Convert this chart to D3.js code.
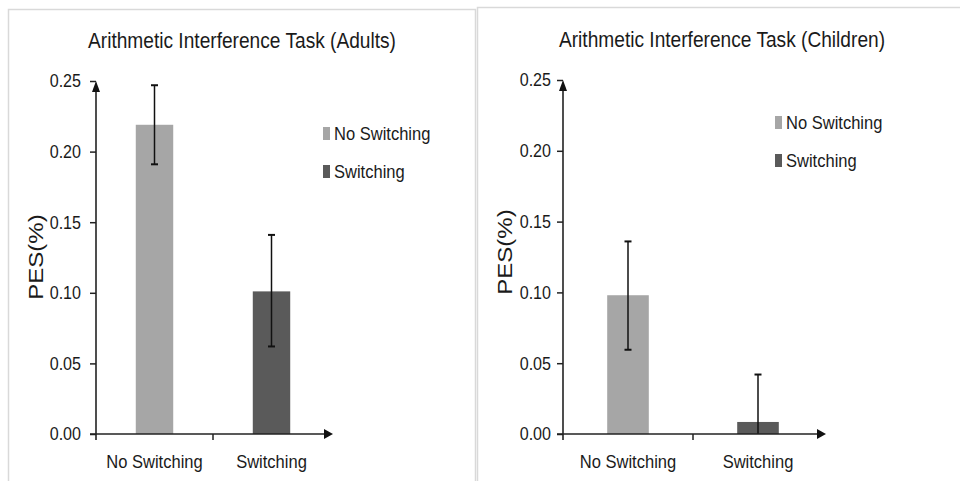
<!DOCTYPE html>
<html>
<head>
<meta charset="utf-8">
<script src="https://cdn.jsdelivr.net/npm/d3@7"></script>
<style>
  html, body { margin: 0; padding: 0; background: #ffffff; }
  svg { display: block; }
  text { font-family: "Liberation Sans", Arial, sans-serif; fill: #1a1a1a; }
</style>
</head>
<body>
<svg id="chart" width="960" height="481"></svg>
<script>
// ---------- data ----------
const categories = ["No Switching", "Switching"];
const yTicks = [0, 0.05, 0.10, 0.15, 0.20, 0.25];
const yLabel = "PES(%)";

const adultsTitle = "Arithmetic Interference Task (Adults)";
const adultsMean  = [0.219, 0.101];
const adultsUpper = [0.247, 0.141];
const adultsLower = [0.191, 0.062];

const childrenTitle = "Arithmetic Interference Task (Children)";
const childrenMean  = [0.098, 0.0085];
const childrenUpper = [0.136, 0.042];
const childrenLower = [0.0595, -0.025];

const barColors = ["#a6a6a6", "#5a5a5a"];

// ---------- drawing ----------
const SX = 0.87; // horizontal squeeze of the original picture
const svg = d3.select("#chart");

// panel frames
svg.append("path")
  .attr("d", "M8.5,481 L8.5,9.5 L475.5,9.5 L475.5,481")
  .attr("fill", "none").attr("stroke", "#d9d9d9").attr("stroke-width", 1.5);
svg.append("path")
  .attr("d", "M477.5,481 L477.5,7.5 L962,7.5")
  .attr("fill", "none").attr("stroke", "#d9d9d9").attr("stroke-width", 1.5);

function squeezedText(g, x, y, str, size, anchor) {
  return g.append("g").attr("transform", `translate(${x},${y})`)
    .append("text")
    .attr("transform", `scale(${SX},1)`)
    .attr("text-anchor", anchor)
    .style("font-size", size + "px")
    .text(str);
}

function drawPanel(p) {
  const g = svg.append("g");
  const y = d3.scaleLinear().domain([0, 0.25]).range([p.y0, p.yTop]);
  const x = d3.scaleBand().domain(categories)
    .range([p.x0, p.x1]).paddingInner(0.68).paddingOuter(0.34);
  const step = x.step();

  // bars
  g.selectAll("rect.bar").data(categories).enter().append("rect")
    .attr("x", d => x(d))
    .attr("width", x.bandwidth())
    .attr("y", (d, i) => y(p.mean[i]))
    .attr("height", (d, i) => p.y0 - y(p.mean[i]))
    .attr("fill", (d, i) => barColors[i]);

  // error bars
  categories.forEach((c, i) => {
    const cx = x(c) + x.bandwidth() / 2;
    const lo = Math.max(0, p.lower[i]);
    g.append("line").attr("x1", cx).attr("x2", cx)
      .attr("y1", y(p.upper[i])).attr("y2", y(lo))
      .attr("stroke", "#111").attr("stroke-width", 1.5);
    g.append("line").attr("x1", cx - 3.5).attr("x2", cx + 3.5)
      .attr("y1", y(p.upper[i])).attr("y2", y(p.upper[i]))
      .attr("stroke", "#111").attr("stroke-width", 2);
    if (p.lower[i] > 0) {
      g.append("line").attr("x1", cx - 3.5).attr("x2", cx + 3.5)
        .attr("y1", y(p.lower[i])).attr("y2", y(p.lower[i]))
        .attr("stroke", "#111").attr("stroke-width", 2);
    }
  });

  // y axis ticks + labels
  const ay = g.append("g").attr("transform", `translate(${p.x0},0)`)
    .call(d3.axisLeft(y).tickValues(yTicks).tickFormat(d3.format(".2f"))
      .tickSize(6).tickSizeOuter(0));
  ay.select(".domain").remove();
  ay.selectAll(".tick line").attr("stroke", "#222").attr("stroke-width", 1.5);
  ay.selectAll(".tick text")
    .attr("x", -(6 + p.tickPad) / SX)
    .attr("transform", `scale(${SX},1)`)
    .style("font-size", "18.5px").style("font-family", "'Liberation Sans', Arial, sans-serif")
    .attr("fill", "#1a1a1a");

  // axis lines
  g.append("line").attr("x1", p.x0).attr("x2", p.x0)
    .attr("y1", p.y0 + 6).attr("y2", p.yTop + 4)
    .attr("stroke", "#222").attr("stroke-width", 1.6);
  g.append("line").attr("x1", p.x0 - 6).attr("x2", p.xArrow - 4)
    .attr("y1", p.y0).attr("y2", p.y0)
    .attr("stroke", "#222").attr("stroke-width", 1.6);
  // arrows
  g.append("path")
    .attr("d", `M${p.x0},${p.yTop} L${p.x0 - 4},${p.yTop + 11} L${p.x0 + 4},${p.yTop + 11} Z`)
    .attr("fill", "#111");
  g.append("path")
    .attr("d", `M${p.xArrow},${p.y0} L${p.xArrow - 9},${p.y0 - 5} L${p.xArrow - 9},${p.y0 + 5} Z`)
    .attr("fill", "#111");
  // category boundary tick
  g.append("line").attr("x1", p.x0 + step).attr("x2", p.x0 + step)
    .attr("y1", p.y0).attr("y2", p.y0 + 6)
    .attr("stroke", "#222").attr("stroke-width", 1.5);

  // category labels
  categories.forEach(c => {
    squeezedText(g, x(c) + x.bandwidth() / 2, p.y0 + 34, c, 19, "middle");
  });

  // title
  squeezedText(g, p.titleX, p.titleY, p.title, 22, "middle");

  // y label
  g.append("g").attr("transform", `translate(${p.yLabX},${p.yLabY}) scale(${SX},1) rotate(-90)`)
    .append("text").attr("text-anchor", "middle")
    .style("font-size", "24px").text(yLabel);

  // legend
  categories.forEach((c, i) => {
    const by = p.legY + i * 38;
    g.append("rect").attr("x", p.legX).attr("y", by - 13).attr("width", 7).attr("height", 13)
      .attr("fill", barColors[i]);
    squeezedText(g, p.legX + 11, by, c, 19, "start");
  });
}

drawPanel({
  title: adultsTitle, mean: adultsMean, upper: adultsUpper, lower: adultsLower,
  x0: 96, x1: 330, xArrow: 333, y0: 434, yTop: 81, tickPad: 9,
  titleX: 242, titleY: 48, yLabX: 43, yLabY: 257,
  legX: 323, legY: 140
});

drawPanel({
  title: childrenTitle, mean: childrenMean, upper: childrenUpper, lower: childrenLower,
  x0: 563, x1: 823, xArrow: 826, y0: 434, yTop: 80, tickPad: 6,
  titleX: 722, titleY: 47, yLabX: 512, yLabY: 252,
  legX: 775, legY: 129
});
</script>
</body>
</html>
